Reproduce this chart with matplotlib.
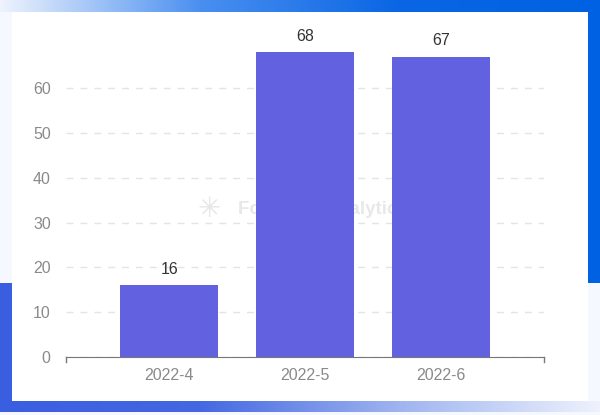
import numpy as np
import matplotlib.pyplot as plt
from matplotlib.colors import LinearSegmentedColormap
from matplotlib.patches import Rectangle

plt.rcParams['font.family'] = ['Liberation Sans', 'DejaVu Sans']

# data
months = ['2022-4', '2022-5', '2022-6']
counts = [16, 68, 67]
yticks = [0, 10, 20, 30, 40, 50, 60]

bar_color = '#6262e0'
grey = '#8a8a8a'

fig = plt.figure(figsize=(6, 4.15), dpi=100)
fig.patch.set_facecolor('white')

# background frame (pixel coordinates)
bg = fig.add_axes([0, 0, 1, 1], zorder=-5)
bg.add_patch(Rectangle((0, 0), 600, 415, color='#f5f8fe', lw=0, zorder=0))
grad = np.linspace(0, 1, 256).reshape(1, -1)
top_cmap = LinearSegmentedColormap.from_list('top', ['#eef3fd', '#4a8ff0', '#0a66e4', '#0062e2'])
bot_cmap = LinearSegmentedColormap.from_list('bot', ['#3a5ee0', '#4468e2', '#9fb4f0', '#eef2fd'])
bg.imshow(grad, cmap=top_cmap, extent=(0, 600, 12, 0), aspect='auto', zorder=2)
bg.imshow(grad, cmap=bot_cmap, extent=(0, 600, 412, 401), aspect='auto', zorder=2)
bg.add_patch(Rectangle((588, 0), 12, 283, color='#0062e2', lw=0, zorder=3))
bg.add_patch(Rectangle((0, 283), 12, 129, color='#3a5ee0', lw=0, zorder=3))
bg.add_patch(Rectangle((12, 12), 576, 389, color='white', lw=0, zorder=3))
bg.set_xlim(0, 600)
bg.set_ylim(415, 0)
bg.axis('off')

# watermark
bg.text(197, 209, '\u2733', fontsize=20, color='#e6e6e6', ha='left', va='center',
        family='DejaVu Sans', zorder=4)
bg.text(238, 209, 'Footprint Analytics', fontsize=13.5, fontweight='bold',
        color='#e8e8e8', ha='left', va='center', zorder=4)

ax = fig.add_axes([66 / 600, 1 - 357 / 415, 478 / 600, 322.8 / 415])
ax.set_facecolor('none')
x = np.arange(len(months))
bars = ax.bar(x, counts, width=0.72, color=bar_color, zorder=3)
for xi, v in zip(x, counts):
    ax.annotate(str(v), (xi, v), xytext=(0, 6), textcoords='offset points',
                ha='center', va='bottom', fontsize=11.5, color='#333333')

ax.set_xlim(-0.76, 2.76)
ax.set_ylim(0, 72)
ax.set_yticks(yticks)
ax.set_xticks(x)
ax.set_xticklabels(months)
ax.grid(axis='y', color='#e4e4e4', linestyle=(0, (5, 5)), lw=1, zorder=0)
for s in ['top', 'right', 'left']:
    ax.spines[s].set_visible(False)
ax.spines['bottom'].set_color('#777777')
ax.tick_params(axis='y', length=0, pad=11, labelsize=11.5, labelcolor=grey)
ax.tick_params(axis='x', length=0, pad=8, labelsize=11.5, labelcolor=grey)
# end ticks on the category axis
ax.plot([-0.76, -0.76], [0, -1.2], color='#777777', lw=1, clip_on=False)
ax.plot([2.76, 2.76], [0, -1.2], color='#777777', lw=1, clip_on=False)

fig.savefig('out.png', dpi=100)
